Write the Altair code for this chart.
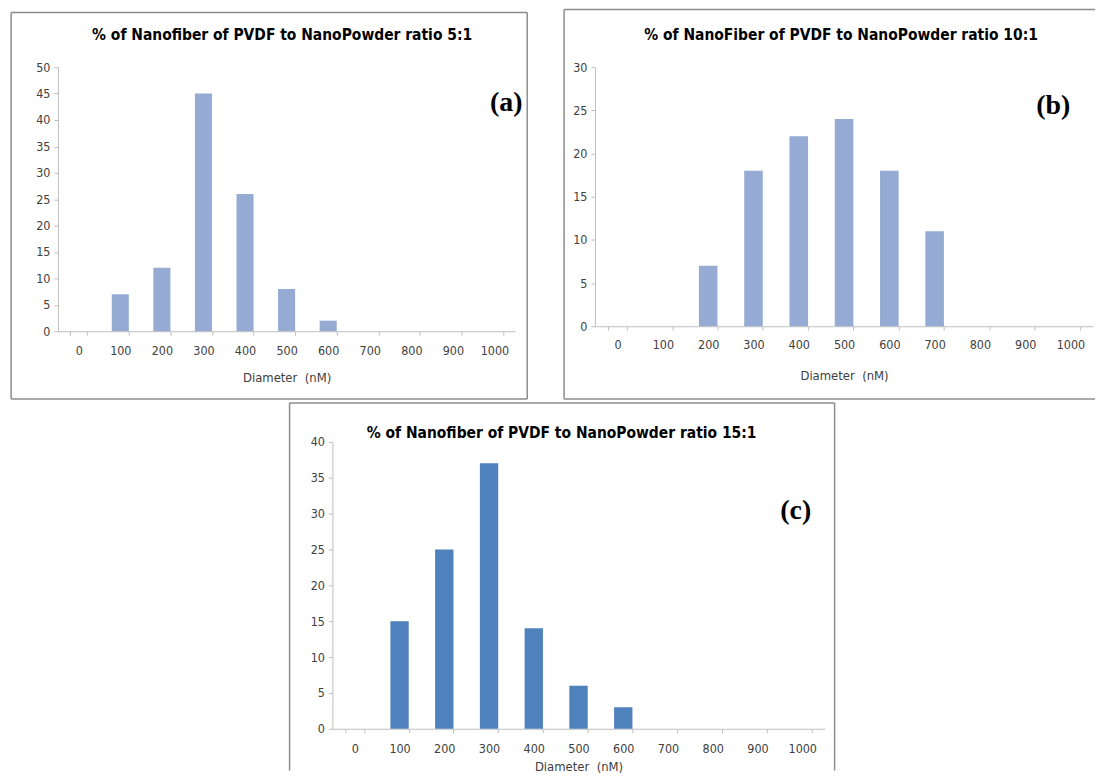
import altair as alt
import pandas as pd

diameters = ["0", "100", "200", "300", "400", "500", "600", "700", "800", "900", "1000"]
pct_ratio_5 = [0, 7, 12, 45, 26, 8, 2, 0, 0, 0, 0]
pct_ratio_10 = [0, 0, 7, 18, 22, 24, 18, 11, 0, 0, 0]
pct_ratio_15 = [0, 15, 25, 37, 14, 6, 3, 0, 0, 0, 0]
titles = [
    "% of Nanofiber of PVDF to NanoPowder ratio 5:1",
    "% of NanoFiber of PVDF to NanoPowder ratio 10:1",
    "% of Nanofiber of PVDF to NanoPowder ratio 15:1",
]
tags = ["(a)", "(b)", "(c)"]
x_title = "Diameter\u00a0 (nM)"

FONT = "'Liberation Sans Narrow', 'DejaVu Sans Condensed', 'Liberation Sans', sans-serif"
FRAME = "#8c8c8c"


def one_row():
    return alt.Data(values=[{"k": 0}])


def seg(x, x2, y, y2, color=FRAME):
    enc = dict(x=alt.value(x), y=alt.value(y))
    if x2 is not None:
        enc["x2"] = alt.value(x2)
    if y2 is not None:
        enc["y2"] = alt.value(y2)
    return alt.Chart(one_row()).mark_rule(
        color=color, strokeWidth=1.5
    ).encode(**enc)


def panel(values, title, tag, color, width, height, ymax, frame, sides,
          title_xy, tag_xy, label_pad, title_pad):
    df = pd.DataFrame({"Diameter": diameters, "Percent": values})
    bars = alt.Chart(df).mark_bar(color=color).encode(
        x=alt.X(
            "Diameter:N", sort=diameters,
            scale=alt.Scale(paddingInner=0.59, paddingOuter=0.295),
            axis=alt.Axis(
                title=x_title, labelAngle=0, tickBand="extent",
                labelFont=FONT, labelFontSize=12.5, labelColor="#404040",
                titleFont=FONT, titleFontSize=13, titleFontWeight="normal",
                titleColor="#404040", domainColor="#bfbfbf", tickColor="#bfbfbf",
                tickSize=4, labelPadding=label_pad, titlePadding=title_pad,
            ),
        ),
        y=alt.Y(
            "Percent:Q",
            scale=alt.Scale(domain=[0, ymax], nice=False),
            axis=alt.Axis(
                title=None, values=list(range(0, ymax + 1, 5)), grid=False,
                labelFont=FONT, labelFontSize=12.5, labelColor="#404040",
                domainColor="#bfbfbf", tickColor="#bfbfbf", tickSize=4,
                labelPadding=4,
            ),
        ),
    )
    title_text = alt.Chart(one_row()).mark_text(
        font=FONT, fontWeight="bold", fontSize=15.5, color="#000000",
        align="center", baseline="alphabetic",
    ).encode(x=alt.value(title_xy[0]), y=alt.value(title_xy[1]), text=alt.value(title))
    tag_text = alt.Chart(one_row()).mark_text(
        font="'Liberation Serif', 'DejaVu Serif', serif", fontWeight="bold",
        fontSize=28, color="#000000", align="center", baseline="middle",
    ).encode(x=alt.value(tag_xy[0]), y=alt.value(tag_xy[1]), text=alt.value(tag))

    l, t, r, b = frame
    layers = [bars, title_text, tag_text]
    if "top" in sides:
        layers.append(seg(l, r, t, None))
    if "left" in sides:
        layers.append(seg(l, None, t, b))
    if "right" in sides:
        layers.append(seg(r, None, t, b))
    if "bottom" in sides:
        layers.append(seg(l, r, b, None))

    return alt.layer(*layers).properties(width=width, height=height)


pa = panel(pct_ratio_5, titles[0], tags[0], "#95abd3", 459, 265, 50,
           frame=(-47, -55, 471, 333), sides=("top", "left", "right", "bottom"),
           title_xy=(225, -27), tag_xy=(450, 36), label_pad=9, title_pad=15)
pb = panel(pct_ratio_10, titles[1], tags[1], "#95abd3", 500, 260, 30,
           frame=(-31, -58, 502, 333), sides=("top", "left", "bottom"),
           title_xy=(247, -27), tag_xy=(460, 39), label_pad=8, title_pad=19)
pc = panel(pct_ratio_15, titles[2], tags[2], "#4f81bd", 494, 288, 40,
           frame=(-43, -39, 504, 330), sides=("top", "left", "right"),
           title_xy=(230, -4), tag_xy=(465, 69), label_pad=10, title_pad=5)

# tiny invisible spacer; with a negative gap it only nudges panel (c) when centred
spacer = alt.Chart(one_row()).mark_point(opacity=0, size=1).encode(
    x=alt.value(0), y=alt.value(0)
).properties(width=4, height=4)

top_row = alt.hconcat(pa, pb, spacing=35)
bottom_row = alt.hconcat(spacer, pc, spacing=-34)
chart = alt.vconcat(top_row, bottom_row, spacing=2, center=True).properties(
    padding={"left": 2, "top": -1, "right": 0, "bottom": 0},
    background="white",
).configure_view(stroke=None)

chart.save("out.html", embed_options={"renderer": "svg", "actions": False})
